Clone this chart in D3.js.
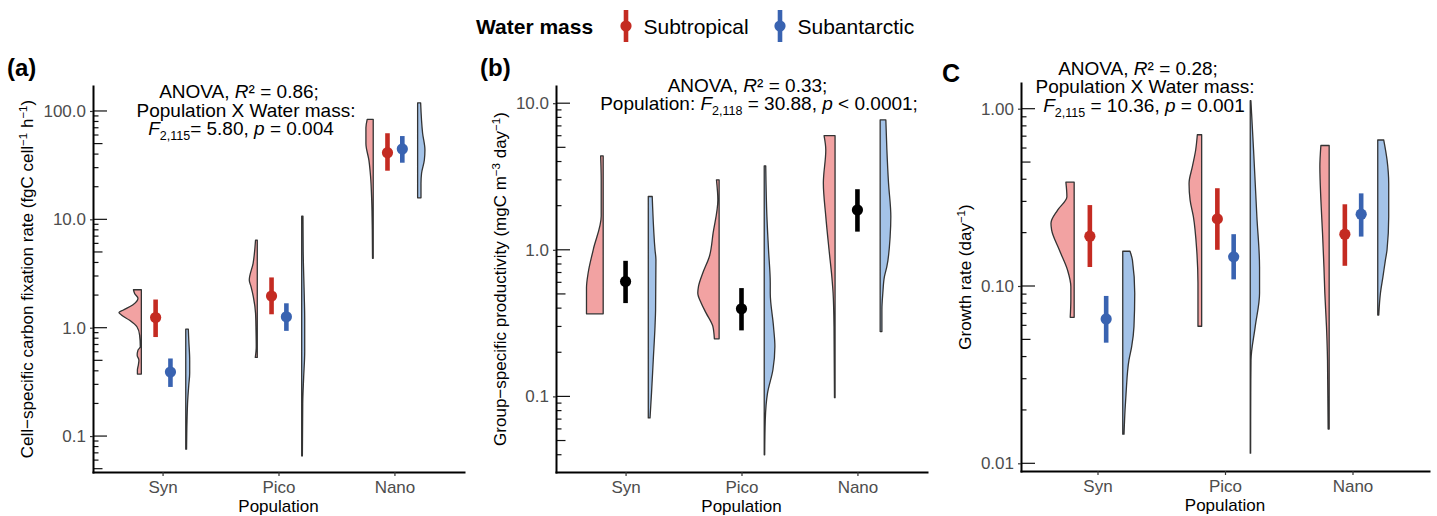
<!DOCTYPE html>
<html>
<head>
<meta charset="utf-8">
<script src="https://cdn.jsdelivr.net/npm/d3@7"></script>
<style>
  body { margin: 0; background: #fff; }
  svg { display: block; font-family: "Liberation Sans", Arial, sans-serif; }
</style>
</head>
<body>
<div id="chart"></div>
<script>
const populations = ["Syn", "Pico", "Nano"];
const waterMasses = ["Subtropical", "Subantarctic"];

// y tick values of each panel
const carbonTicks = [0.1, 1, 10, 100];
const productivityTicks = [0.1, 1, 10];
const growthTicks = [0.01, 0.1, 1];

// mean and interval (lo, hi)
const carbonPoints = [
  { pop: "Syn", mass: "Subtropical", mean: 1.24, lo: 0.82, hi: 1.82 },
  { pop: "Syn", mass: "Subantarctic", mean: 0.39, lo: 0.284, hi: 0.52 },
  { pop: "Pico", mass: "Subtropical", mean: 1.96, lo: 1.33, hi: 2.91 },
  { pop: "Pico", mass: "Subantarctic", mean: 1.26, lo: 0.935, hi: 1.68 },
  { pop: "Nano", mass: "Subtropical", mean: 41.2, lo: 28.1, hi: 62.3 },
  { pop: "Nano", mass: "Subantarctic", mean: 44.6, lo: 33.3, hi: 58.7 }
];
const productivityPoints = [
  { pop: "Syn", mean: 0.608, lo: 0.433, hi: 0.841 },
  { pop: "Pico", mean: 0.396, lo: 0.282, hi: 0.548 },
  { pop: "Nano", mean: 1.87, lo: 1.33, hi: 2.59 }
];
const growthPoints = [
  { pop: "Syn", mass: "Subtropical", mean: 0.191, lo: 0.128, hi: 0.286 },
  { pop: "Syn", mass: "Subantarctic", mean: 0.0652, lo: 0.0479, hi: 0.0879 },
  { pop: "Pico", mass: "Subtropical", mean: 0.239, lo: 0.16, hi: 0.356 },
  { pop: "Pico", mass: "Subantarctic", mean: 0.146, lo: 0.109, hi: 0.196 },
  { pop: "Nano", mass: "Subtropical", mean: 0.196, lo: 0.13, hi: 0.289 },
  { pop: "Nano", mass: "Subantarctic", mean: 0.254, lo: 0.19, hi: 0.333 }
];

// violin outlines: [value, half width in % of the category spacing]
const carbonViolins = [
  { pop: "Syn", mass: "Subtropical", profile: [[2.24, 6.8], [2.07, 5.8], [1.87, 2.9], [1.62, 7.5], [1.45, 15.9], [1.38, 19.3], [1.31, 17.2], [1.17, 10.1], [1.02, 3.8], [0.855, 1.5], [0.667, 0.9], [0.621, 2.9], [0.558, 3.6], [0.502, 2.1], [0.452, 2.6], [0.406, 3.4], [0.373, 3.4]] },
  { pop: "Syn", mass: "Subantarctic", profile: [[0.97, 2.2], [0.769, 2.6], [0.502, 3.4], [0.38, 3.4], [0.295, 2.6], [0.215, 1.7], [0.14, 1.1], [0.0757, 0.7]] },
  { pop: "Pico", mass: "Subtropical", profile: [[6.44, 1.5], [3.93, 3.6], [2.75, 6.9], [2.39, 5.4], [1.93, 3.4], [1.36, 1.5], [0.95, 1.1], [0.667, 0.9], [0.532, 1.7]] },
  { pop: "Pico", mass: "Subantarctic", profile: [[10.7, 1.1], [5, 1.3], [2, 2.2], [1.2, 2.6], [0.6, 2.6], [0.35, 1.7], [0.2, 0.9], [0.0656, 0.6]] },
  { pop: "Nano", mass: "Subtropical", profile: [[83.8, 5.2], [70, 6.3], [50, 6.3], [35, 3.7], [25, 2.3], [15, 1.3], [8, 0.8], [4.37, 0.6]] },
  { pop: "Nano", mass: "Subantarctic", profile: [[119, 2.6], [62.3, 4.3], [43.6, 6.3], [35.3, 5.8], [26.6, 3.4], [21.5, 2.9], [15.8, 2.9]] }
];
const productivityViolins = [
  { pop: "Syn", mass: "Subtropical", profile: [[4.37, 2.2], [3.0, 1.7], [1.7, 1.7], [1.0, 8.6], [0.7, 12.9], [0.55, 14.4], [0.366, 14.4]] },
  { pop: "Syn", mass: "Subantarctic", profile: [[2.31, 3.4], [2.0, 3.7], [1.0, 5.8], [0.855, 6.6], [0.39, 6.3], [0.3, 5.8], [0.178, 4.3], [0.106, 2.8], [0.0713, 1.5]] },
  { pop: "Pico", mass: "Subtropical", profile: [[3.0, 2.3], [2.19, 1.1], [1.3, 5.2], [0.9, 8.4], [0.694, 14.1], [0.562, 17.8], [0.507, 18.4], [0.433, 15.5], [0.37, 11.2], [0.3, 5.4], [0.247, 4.1]] },
  { pop: "Pico", mass: "Subantarctic", profile: [[3.74, 1.3], [1.69, 2.3], [1.0, 3.7], [0.593, 5.2], [0.507, 5.2], [0.3, 8.0], [0.219, 9.2], [0.152, 7.5], [0.105, 2.8], [0.0693, 0.9], [0.04, 0.4]] },
  { pop: "Nano", mass: "Subtropical", profile: [[6.0, 9.5], [4.8, 8.0], [2.85, 10.1], [1.69, 8.0], [1.0, 5.2], [0.658, 2.8], [0.507, 1.7], [0.3, 0.9], [0.098, 0.5]] },
  { pop: "Nano", mass: "Subantarctic", profile: [[7.7, 4.9], [4.8, 5.8], [2.86, 7.2], [1.69, 9.2], [1.23, 8.6], [0.77, 5.8], [0.658, 3.7], [0.507, 2.3], [0.39, 1.5], [0.277, 1.5]] }
];
const growthViolins = [
  { pop: "Syn", mass: "Subtropical", profile: [[0.385, 6.5], [0.319, 5.7], [0.268, 13.0], [0.226, 18.2], [0.207, 17.7], [0.16, 11.7], [0.123, 5.2], [0.099, 2.6], [0.0834, 2.6], [0.0666, 3.1]] },
  { pop: "Syn", mass: "Subantarctic", profile: [[0.157, 5.7], [0.14, 7.6], [0.091, 9.4], [0.059, 8.8], [0.0455, 7.0], [0.0383, 4.9], [0.0248, 2.6], [0.02, 1.8], [0.0146, 1.0]] },
  { pop: "Pico", mass: "Subtropical", profile: [[0.713, 3.4], [0.585, 4.7], [0.471, 7.3], [0.379, 9.9], [0.306, 9.1], [0.246, 6.5], [0.16, 3.9], [0.104, 2.9], [0.0593, 2.9]] },
  { pop: "Pico", mass: "Subantarctic", profile: [[1.11, 0.5], [0.585, 2.6], [0.246, 5.2], [0.128, 7.3], [0.091, 7.3], [0.059, 3.9], [0.0383, 0.6], [0.025, 0.4], [0.0114, 0.3]] },
  { pop: "Nano", mass: "Subtropical", profile: [[0.62, 6.5], [0.471, 7.3], [0.306, 6.5], [0.198, 5.2], [0.128, 4.1], [0.091, 3.4], [0.059, 2.1], [0.0383, 1.3], [0.0156, 0.8]] },
  { pop: "Nano", mass: "Subantarctic", profile: [[0.666, 4.7], [0.514, 7.3], [0.379, 8.6], [0.246, 8.6], [0.16, 7.3], [0.14, 6.0], [0.113, 4.1], [0.091, 2.1], [0.0686, 0.8]] }
];

// statistics text, as [text, style] parts
const carbonStats = [
  [["ANOVA, "], ["R", "i"], ["\u00B2 = 0.86;"]],
  [["Population X Water mass:"]],
  [["F", "i"], ["2,115", "sub"], ["= 5.80, "], ["p", "i"], [" = 0.004"]]
];
const productivityStats = [
  [["ANOVA, "], ["R", "i"], ["\u00B2 = 0.33;"]],
  [["Population: "], ["F", "i"], ["2,118", "sub"], [" = 30.88, "], ["p", "i"], [" < 0.0001;"]]
];
const growthStats = [
  [["ANOVA, "], ["R", "i"], ["\u00B2 = 0.28;"]],
  [["Population X Water mass:"]],
  [["F", "i"], ["2,115", "sub"], [" = 10.36, "], ["p", "i"], [" = 0.001"]]
];

const carbonTitle = [["Cell\u2212specific carbon fixation rate (fgC cell"], ["\u22121", "sup"], [" h"], ["\u22121", "sup"], [")"]];
const productivityTitle = [["Group\u2212specific productivity (mgC m"], ["\u22123", "sup"], [" day"], ["\u22121", "sup"], [")"]];
const growthTitle = [["Growth rate (day"], ["\u22121", "sup"], [")"]];

const pointColor = d3.scaleOrdinal().domain(waterMasses).range(["#C42B22", "#3963B1"]);
const fillColor = d3.scaleOrdinal().domain(waterMasses).range(["#F2A2A2", "#A4C3E8"]);

const W = 1437, H = 516;
const svg = d3.select("#chart").append("svg").attr("width", W).attr("height", H);

// writes parts with italic / sub / superscript into a text element
function richText(text, parts, small) {
  let shift = 0;
  parts.forEach(([t, kind]) => {
    const ts = text.append("tspan").text(t);
    let target = 0;
    if (kind === "sub") { target = small.sub; ts.attr("font-size", small.size); }
    if (kind === "sup") { target = small.sup; ts.attr("font-size", small.size); }
    if (kind === "i") ts.attr("font-style", "italic");
    if (target !== shift) { ts.attr("dy", target - shift); shift = target; }
  });
}

const panels = [
  { label: "(a)", labelX: 7, labelY: 75.5, left: 93, right: 464, top: 86, bottom: 472,
    domain: [0.0466, 170], ticks: carbonTicks, fmt: ".1f", title: carbonTitle, titleX: 27.5,
    violins: carbonViolins, points: carbonPoints, stats: carbonStats,
    statX: [239, 246, 241], statY: 98.3, xTitleY: 511.5, edge: [-0.183, 0.2] },
  { label: "(b)", labelX: 480, labelY: 75.5, left: 556, right: 927, top: 86, bottom: 472,
    domain: [0.0305, 13.1], ticks: productivityTicks, fmt: ".1f", title: productivityTitle, titleX: 500.5,
    violins: productivityViolins, points: productivityPoints, stats: productivityStats,
    statX: [747.5, 759], statY: 91.7, xTitleY: 511.5, edge: [-0.193, 0.196] },
  { label: "C", labelX: 942, labelY: 81.5, left: 1021, right: 1429, top: 83, bottom: 471,
    domain: [0.00905, 1.396], ticks: growthTicks, fmt: ".2f", title: growthTitle, titleX: 965.5,
    violins: growthViolins, points: growthPoints, stats: growthStats,
    statX: [1138, 1145, 1144], statY: 75, xTitleY: 510.5, edge: [-0.183, 0.198] }
];

panels.forEach(p => {
  const x = d3.scalePoint().domain(populations).range([p.left, p.right]).padding(0.6);
  const step = x.step();
  const y = d3.scaleLog().domain(p.domain).range([p.bottom, p.top]);
  const g = svg.append("g");

  // log ticks drawn inside the panel
  const [lo, hi] = p.domain;
  const logTicks = [];
  for (let e = Math.floor(Math.log10(lo)); e <= Math.ceil(Math.log10(hi)); e++) {
    for (let k = 1; k <= 9; k++) {
      const v = k * Math.pow(10, e);
      if (v >= lo && v <= hi) logTicks.push({ v, k });
    }
  }
  g.selectAll(".logtick").data(logTicks).join("line")
    .attr("x1", p.left).attr("x2", d => p.left + (d.k === 1 ? 14 : d.k === 5 ? 9.5 : 5.5))
    .attr("y1", d => y(d.v)).attr("y2", d => y(d.v))
    .attr("stroke", "#111").attr("stroke-width", 1.2);

  // half violins
  p.violins.forEach(v => {
    const side = v.mass === "Subtropical" ? -1 : 1;
    const edge = x(v.pop) + (side < 0 ? p.edge[0] : p.edge[1]) * step;
    const area = d3.area().curve(d3.curveMonotoneY)
      .y(d => y(d[0]))
      .x0(edge)
      .x1(d => edge + side * d[1] / 100 * step);
    g.append("path").datum(v.profile)
      .attr("d", area)
      .attr("fill", fillColor(v.mass))
      .attr("stroke", "#333")
      .attr("stroke-width", 1.3)
      .attr("stroke-linejoin", "round");
  });

  // point ranges
  p.points.forEach(d => {
    const off = d.mass ? (d.mass === "Subtropical" ? -0.06 : 0.068) : 0;
    const cx = x(d.pop) + off * step;
    const col = d.mass ? pointColor(d.mass) : "#000";
    g.append("line").attr("x1", cx).attr("x2", cx)
      .attr("y1", y(d.lo)).attr("y2", y(d.hi))
      .attr("stroke", col).attr("stroke-width", 4.6);
    g.append("circle").attr("cx", cx).attr("cy", y(d.mean)).attr("r", 5.6).attr("fill", col);
  });

  // axes
  const gy = g.append("g").attr("transform", `translate(${p.left},0)`)
    .call(d3.axisLeft(y).tickValues(p.ticks).tickFormat(d3.format(p.fmt))
      .tickSize(3).tickPadding(4).tickSizeOuter(0));
  const gx = g.append("g").attr("transform", `translate(0,${p.bottom})`)
    .call(d3.axisBottom(x).tickSize(4).tickPadding(5).tickSizeOuter(0));
  [gy, gx].forEach(a => {
    a.attr("font-family", null).attr("font-size", 17);
    a.select(".domain").attr("stroke", "#000").attr("stroke-width", 2).attr("stroke-linecap", "square");
    a.selectAll(".tick line").attr("stroke", "#333").attr("stroke-width", 1.2);
    a.selectAll(".tick text").attr("fill", "#4D4D4D");
  });

  // axis titles
  g.append("text").attr("x", x("Pico")).attr("y", p.xTitleY)
    .attr("text-anchor", "middle").attr("font-size", 17).attr("fill", "#000")
    .text("Population");
  const yt = g.append("text")
    .attr("transform", `translate(${p.titleX},${(p.top + p.bottom) / 2}) rotate(-90)`)
    .attr("text-anchor", "middle").attr("dy", "0.35em").attr("font-size", 17).attr("fill", "#000");
  richText(yt, p.title, { size: 11.5, sup: -6, sub: 0 });

  // panel tag
  g.append("text").attr("x", p.labelX).attr("y", p.labelY)
    .attr("font-size", p.label === "C" ? 25 : 24).attr("font-weight", "bold").text(p.label);

  // statistics
  p.stats.forEach((line, i) => {
    const t = g.append("text").attr("x", p.statX[i]).attr("y", p.statY + i * 18.3)
      .attr("text-anchor", "middle").attr("font-size", 19).attr("fill", "#000");
    richText(t, line, { size: 12.5, sub: 5, sup: 0 });
  });
});

// legend
const legend = svg.append("g");
legend.append("text").attr("x", 476).attr("y", 33.5)
  .attr("font-size", 21).attr("font-weight", "bold").text("Water mass");
const legendX = d3.scaleOrdinal().domain(waterMasses).range([626, 780]);
waterMasses.forEach(m => {
  const cx = legendX(m);
  legend.append("line").attr("x1", cx).attr("x2", cx).attr("y1", 10).attr("y2", 42)
    .attr("stroke", pointColor(m)).attr("stroke-width", 4.6);
  legend.append("circle").attr("cx", cx).attr("cy", 26).attr("r", 5.6).attr("fill", pointColor(m));
  legend.append("text").attr("x", cx + 17.5).attr("y", 34)
    .attr("font-size", 21).text(m);
});
</script>
</body>
</html>
